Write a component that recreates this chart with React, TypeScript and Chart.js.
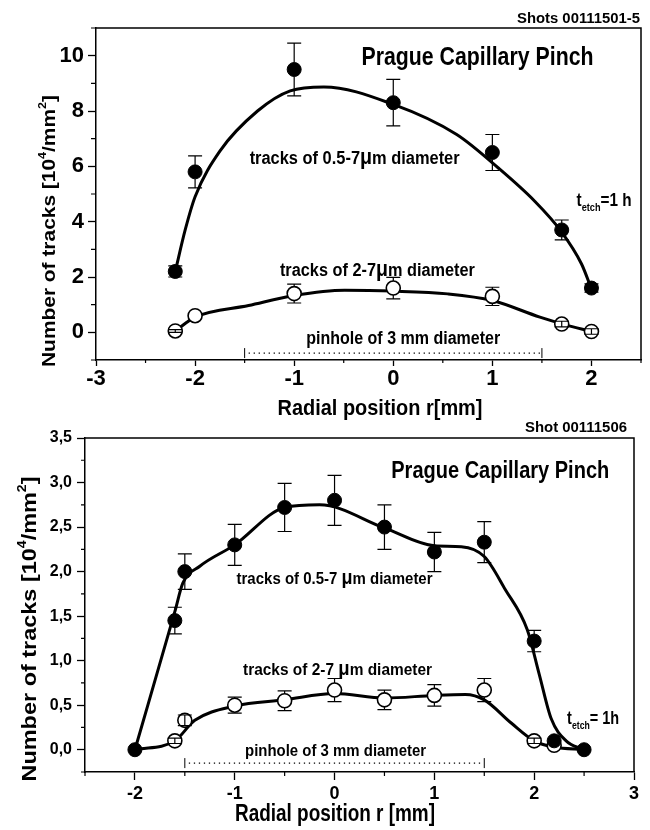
import React, { useEffect, useRef } from 'react';
import { Chart, registerables } from 'chart.js';

Chart.register(...registerables);

const WIDE = '"Liberation Sans", Arial, Helvetica, sans-serif';

// ---------- Top panel (Shots 00111501-5) ----------
const topPosX = [-2.2, -2.0, -1.0, 0.0, 1.0, 1.7, 2.0];
const topLarge = [2.2, 5.8, 9.5, 8.3, 6.5, 3.7, 1.6];
const topLargeErr = [0.2, 0.58, 0.95, 0.84, 0.65, 0.36, 0.15];
const topSmall = [0.05, 0.6, 1.4, 1.6, 1.3, 0.3, 0.03];
const topSmallErr = [0.05, 0.0, 0.34, 0.39, 0.33, 0.1, 0.1];
const topLargeFitX = [-2.2, -2.1, -2.0, -1.75, -1.37, -1.04, -0.7, 0.0, 0.64, 1.06, 1.43, 1.69, 1.9, 2.0];
const topLargeFitY = [2.2, 3.7, 4.9, 6.55, 8.0, 8.73, 8.87, 8.24, 7.15, 5.94, 4.73, 3.67, 2.47, 1.57];
const topSmallFitX = [-2.2, -2.0, -1.46, -1.0, -0.49, 0.0, 0.55, 1.0, 1.48, 1.73, 2.0];
const topSmallFitY = [0.05, 0.55, 0.97, 1.33, 1.52, 1.49, 1.39, 1.15, 0.55, 0.28, 0.03];
const topXLabels = ['-3', '-2', '-1', '0', '1', '2'];
const topYLabels = ['0', '2', '4', '6', '8', '10'];

// ---------- Bottom panel (Shot 00111506) ----------
const botLargeX = [-2.0, -1.6, -1.5, -1.0, -0.5, 0.0, 0.5, 1.0, 1.5, 2.0, 2.2, 2.5];
const botLarge = [0.0, 1.45, 2.0, 2.3, 2.72, 2.8, 2.5, 2.22, 2.33, 1.22, 0.1, 0.0];
const botLargeErr = [0, 0.15, 0.2, 0.23, 0.27, 0.28, 0.25, 0.22, 0.23, 0.12, 0, 0];
const botSmallX = [-1.6, -1.5, -1.0, -0.5, 0.0, 0.5, 1.0, 1.5, 2.0, 2.2];
const botSmall = [0.1, 0.33, 0.5, 0.55, 0.67, 0.56, 0.61, 0.67, 0.1, 0.05];
const botSmallErr = [0.03, 0.06, 0.09, 0.11, 0.13, 0.11, 0.12, 0.13, 0.03, 0.0];
const botLargeFitX = [-2.0, -1.6, -1.52, -1.35, -1.0, -0.5, -0.15, 0.5, 1.0, 1.27, 1.5, 1.71, 1.93, 2.05, 2.17, 2.32, 2.5];
const botLargeFitY = [0.0, 1.55, 1.87, 2.06, 2.3, 2.72, 2.75, 2.49, 2.29, 2.28, 2.17, 1.8, 1.35, 0.85, 0.35, 0.1, 0.0];
const botSmallFitX = [-2.0, -1.6, -1.4, -1.0, -0.5, 0.0, 0.5, 1.0, 1.31, 1.5, 1.77, 2.0, 2.2, 2.5];
const botSmallFitY = [0.0, 0.1, 0.33, 0.49, 0.56, 0.63, 0.58, 0.61, 0.62, 0.56, 0.3, 0.1, 0.03, 0.0];
const botXLabels = ['-2', '-1', '0', '1', '2', '3'];
const botYLabels = ['0,0', '0,5', '1,0', '1,5', '2,0', '2,5', '3,0', '3,5'];

type Part = { t: string; scale?: number; dy?: number };
const P = (t: string, scale = 1): Part => ({ t, scale, dy: 0 });
const SUP = (t: string): Part => ({ t, scale: 0.6, dy: -0.45 });
const SUB = (t: string): Part => ({ t, scale: 0.6, dy: 0.3 });

type TextItem = {
  parts: Part[];
  px?: [number, number];
  d?: [number, number];
  align: 'left' | 'center' | 'right';
  size: number;
  width: number;
  rotate?: boolean;
};

const labelFor = (labels: string[], v: number) => {
  for (const l of labels) if (Math.abs(parseFloat(l.replace(',', '.')) - v) < 1e-6) return l;
  return '';
};
const isMul = (v: number, step: number) => Math.abs(v / step - Math.round(v / step)) < 1e-6;

const TOP = {
  height: 425,
  padding: { top: 28, right: 9, left: 0, bottom: 0 },
  yAxisWidth: 96,
  xAxisHeight: 65,
  x: { min: -3, max: 2.5, step: 0.5, major: 1, labels: topXLabels, font: { family: WIDE, size: 22, weight: 'bold' }, tickLen: 6, minorLen: 3, pad: 0 },
  y: { min: -1, max: 11, step: 1, major: 2, labels: topYLabels, font: { family: WIDE, size: 22, weight: 'bold' }, tickLen: 8, minorLen: 5, pad: 4 },
  large: { xs: topPosX, ys: topLarge, err: topLargeErr },
  small: { xs: topPosX, ys: topSmall, err: topSmallErr },
  fitLarge: { xs: topLargeFitX, ys: topLargeFitY },
  fitSmall: { xs: topSmallFitX, ys: topSmallFitY },
  pinhole: { from: -1.5, to: 1.5, y: -0.75 },
  texts: [
    { parts: [P('Shots 00111501-5')], px: [640, 18], align: 'right', size: 15, width: 123 },
    { parts: [P('Prague Capillary Pinch')], d: [0.85, 10.0], align: 'center', size: 25, width: 232 },
    { parts: [P('tracks of 0.5-7'), P('μ', 1.2), P('m diameter')], d: [-0.39, 6.33], align: 'center', size: 18, width: 210 },
    { parts: [P('tracks of 2-7'), P('μ', 1.2), P('m diameter')], d: [-0.16, 2.26], align: 'center', size: 18, width: 195 },
    { parts: [P('pinhole of 3 mm diameter')], d: [0.1, -0.18], align: 'center', size: 18, width: 194 },
    { parts: [P('t'), SUB('etch'), P('=1 h')], d: [1.85, 4.83], align: 'left', size: 19, width: 55 },
    { parts: [P('Radial position r[mm]')], px: [380, 407], align: 'center', size: 22, width: 205 },
    { parts: [P('Number of tracks [10'), SUP('4'), P('/mm'), SUP('2'), P(']')], px: [48, 231], align: 'center', size: 19, width: 272, rotate: true },
  ] as TextItem[],
};

// bottom canvas starts at page y = 410
const BOTTOM = {
  height: 420,
  padding: { top: 28, right: 16, left: 0, bottom: 0 },
  yAxisWidth: 85,
  xAxisHeight: 58,
  x: { min: -2.5, max: 3, step: 0.5, major: 1, labels: botXLabels, font: { family: WIDE, size: 18, weight: 'bold' }, tickLen: 8, minorLen: 4, pad: 3 },
  y: { min: -0.25, max: 3.5, step: 0.25, major: 0.5, labels: botYLabels, font: { family: WIDE, size: 16, weight: 'bold' }, tickLen: 8, minorLen: 4, pad: 5 },
  large: { xs: botLargeX, ys: botLarge, err: botLargeErr },
  small: { xs: botSmallX, ys: botSmall, err: botSmallErr },
  fitLarge: { xs: botLargeFitX, ys: botLargeFitY },
  fitSmall: { xs: botSmallFitX, ys: botSmallFitY },
  pinhole: { from: -1.5, to: 1.5, y: -0.15 },
  texts: [
    { parts: [P('Shot 00111506')], px: [627, 17], align: 'right', size: 15, width: 102 },
    { parts: [P('Prague Capillary Pinch')], d: [1.66, 3.15], align: 'center', size: 24, width: 218 },
    { parts: [P('tracks of 0.5-7 '), P('μ', 1.2), P('m diameter')], d: [0.0, 1.93], align: 'center', size: 17, width: 196 },
    { parts: [P('tracks of 2-7 '), P('μ', 1.2), P('m diameter')], d: [0.03, 0.91], align: 'center', size: 17, width: 189 },
    { parts: [P('pinhole of 3 mm diameter')], d: [0.01, 0.0], align: 'center', size: 17, width: 181 },
    { parts: [P('t'), SUB('etch'), P('= 1h')], d: [2.33, 0.37], align: 'left', size: 19, width: 52 },
    { parts: [P('Radial position r [mm]')], px: [335, 403], align: 'center', size: 23, width: 200 },
    { parts: [P('Number of tracks [10'), SUP('4'), P('/mm'), SUP('2'), P(']')], px: [28, 219], align: 'center', size: 21, width: 305, rotate: true },
  ] as TextItem[],
};

// Draws bold text whose glyph height is set by `size` and whose run is compressed horizontally to `width`.
function drawParts(ctx: CanvasRenderingContext2D, item: TextItem, x: number, y: number) {
  const size = item.size;
  const fontOf = (s: number) => `bold ${s}px ${WIDE}`;
  let total = 0;
  for (const p of item.parts) {
    ctx.font = fontOf(size * (p.scale || 1));
    total += ctx.measureText(p.t).width;
  }
  const sx = item.width && total > 0 ? item.width / total : 1;
  ctx.save();
  ctx.translate(x, y);
  if (item.rotate) ctx.rotate(-Math.PI / 2);
  ctx.scale(sx, 1);
  let cx = item.align === 'left' ? 0 : item.align === 'right' ? -total : -total / 2;
  const base = size * 0.36;
  ctx.fillStyle = '#000';
  ctx.textBaseline = 'alphabetic';
  ctx.textAlign = 'left';
  for (const p of item.parts) {
    ctx.font = fontOf(size * (p.scale || 1));
    ctx.fillText(p.t, cx, base + (p.dy || 0) * size);
    cx += ctx.measureText(p.t).width;
  }
  ctx.restore();
}

function makeConfig(p: any) {
  const pts = (xs: number[], ys: number[]) => xs.map((x, i) => ({ x, y: ys[i] }));
  const R = 7;

  const decor = {
    id: 'decor',
    afterDatasetsDraw(chart: any) {
      const ctx = chart.ctx as CanvasRenderingContext2D;
      const xs = chart.scales.x;
      const ys = chart.scales.y;
      const bars = (set: any) => {
        ctx.save();
        ctx.strokeStyle = '#000';
        ctx.lineWidth = 1.2;
        set.xs.forEach((xv: number, i: number) => {
          const e = set.err[i];
          if (!e) return;
          const px = xs.getPixelForValue(xv);
          const pc = ys.getPixelForValue(set.ys[i]);
          const pt = ys.getPixelForValue(set.ys[i] + e);
          const pb = ys.getPixelForValue(set.ys[i] - e);
          const half = (pb - pt) / 2;
          ctx.beginPath();
          if (half > R) {
            ctx.moveTo(px, pt); ctx.lineTo(px, pc - R);
            ctx.moveTo(px, pc + R); ctx.lineTo(px, pb);
          } else {
            ctx.moveTo(px, pt); ctx.lineTo(px, pb);
          }
          ctx.moveTo(px - 7, pt); ctx.lineTo(px + 7, pt);
          ctx.moveTo(px - 7, pb); ctx.lineTo(px + 7, pb);
          ctx.stroke();
        });
        ctx.restore();
      };
      bars(p.small);
      bars(p.large);
    },
    afterDraw(chart: any) {
      const ctx = chart.ctx as CanvasRenderingContext2D;
      const a = chart.chartArea;
      const xs = chart.scales.x;
      const ys = chart.scales.y;
      ctx.save();
      ctx.strokeStyle = '#000';
      ctx.lineWidth = 1.5;
      ctx.beginPath();
      ctx.moveTo(a.left, a.top); ctx.lineTo(a.right, a.top); ctx.lineTo(a.right, a.bottom);
      ctx.stroke();
      ctx.lineWidth = 1.2;
      ctx.beginPath();
      xs.ticks.forEach((t: any) => {
        if (isMul(t.value, p.x.major)) return;
        const px = xs.getPixelForValue(t.value);
        ctx.moveTo(px, a.bottom); ctx.lineTo(px, a.bottom + p.x.minorLen);
      });
      ys.ticks.forEach((t: any) => {
        if (isMul(t.value, p.y.major)) return;
        const py = ys.getPixelForValue(t.value);
        ctx.moveTo(a.left, py); ctx.lineTo(a.left - p.y.minorLen, py);
      });
      ctx.stroke();
      const x1 = xs.getPixelForValue(p.pinhole.from);
      const x2 = xs.getPixelForValue(p.pinhole.to);
      const py = ys.getPixelForValue(p.pinhole.y);
      ctx.lineWidth = 1;
      ctx.beginPath();
      ctx.moveTo(x1, py - 5); ctx.lineTo(x1, py + 5);
      ctx.moveTo(x2, py - 5); ctx.lineTo(x2, py + 5);
      ctx.stroke();
      ctx.setLineDash([1.3, 3.7]);
      ctx.lineWidth = 1.3;
      ctx.beginPath();
      ctx.moveTo(x1 + 4, py); ctx.lineTo(x2 - 2, py);
      ctx.stroke();
      ctx.setLineDash([]);
      ctx.restore();
      for (const item of p.texts as TextItem[]) {
        let x: number, y: number;
        if (item.d) { x = xs.getPixelForValue(item.d[0]); y = ys.getPixelForValue(item.d[1]); }
        else { x = item.px![0]; y = item.px![1]; }
        drawParts(ctx, item, x, y);
      }
    },
  };

  const axis = (ax: any, isX: boolean) => ({
    type: 'linear',
    min: ax.min,
    max: ax.max,
    afterFit: (s: any) => { if (isX) s.height = p.xAxisHeight; else s.width = p.yAxisWidth; },
    ticks: {
      stepSize: ax.step,
      autoSkip: false,
      maxRotation: 0,
      minRotation: 0,
      padding: ax.pad,
      color: '#000',
      font: ax.font,
      callback: (v: number) => (isMul(v, ax.major) ? labelFor(ax.labels, v) : ''),
    },
    grid: {
      display: true,
      drawOnChartArea: false,
      drawTicks: true,
      tickLength: ax.tickLen,
      tickWidth: 1.3,
      tickColor: (c: any) => (c.tick && isMul(c.tick.value, ax.major) ? '#000' : 'rgba(0,0,0,0)'),
    },
    border: { display: true, color: '#000', width: 1.5 },
  });

  return {
    type: 'scatter',
    data: {
      datasets: [
        { label: 'fit large', data: pts(p.fitLarge.xs, p.fitLarge.ys), showLine: true, pointRadius: 0, borderColor: '#000', borderWidth: 3, cubicInterpolationMode: 'monotone', order: 3 },
        { label: 'fit small', data: pts(p.fitSmall.xs, p.fitSmall.ys), showLine: true, pointRadius: 0, borderColor: '#000', borderWidth: 3, cubicInterpolationMode: 'monotone', order: 2 },
        { label: 'tracks 2-7 um', data: pts(p.small.xs, p.small.ys), showLine: false, pointRadius: R, pointBackgroundColor: '#fff', pointBorderColor: '#000', pointBorderWidth: 1.6, order: 1 },
        { label: 'tracks 0.5-7 um', data: pts(p.large.xs, p.large.ys), showLine: false, pointRadius: R, pointBackgroundColor: '#000', pointBorderColor: '#000', pointBorderWidth: 1, order: 0 },
      ],
    },
    options: {
      responsive: false,
      animation: false,
      events: [],
      layout: { padding: p.padding },
      plugins: { legend: { display: false }, tooltip: { enabled: false }, title: { display: false } },
      scales: { x: axis(p.x, true), y: axis(p.y, false) },
    },
    plugins: [decor],
  } as any;
}

export default function App() {
  const r1 = useRef<HTMLCanvasElement>(null);
  const r2 = useRef<HTMLCanvasElement>(null);
  useEffect(() => {
    const c1 = new Chart(r1.current!, makeConfig(TOP));
    const c2 = new Chart(r2.current!, makeConfig(BOTTOM));
    return () => {
      c1.destroy();
      c2.destroy();
    };
  }, []);
  return (
    <div style={{ position: 'absolute', left: 0, top: 0, width: 650, height: 830, background: '#fff' }}>
      <canvas ref={r1} width={650} height={425} style={{ position: 'absolute', left: 0, top: 0, width: 650, height: 425 }} />
      <canvas ref={r2} width={650} height={420} style={{ position: 'absolute', left: 0, top: 410, width: 650, height: 420 }} />
    </div>
  );
}
